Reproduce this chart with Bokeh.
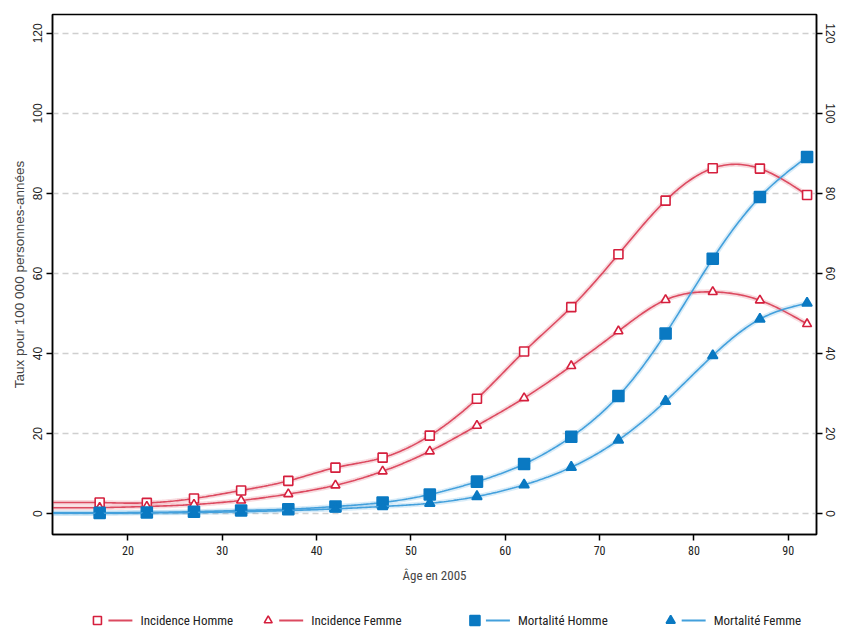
import numpy as np
from bokeh.plotting import figure
from bokeh.models import Range1d, LinearAxis, FixedTicker
from bokeh.layouts import column
from bokeh.embed import file_html
from bokeh.resources import INLINE
from bokeh.core.properties import value

# ---- data ----
ages = [17, 22, 27, 32, 37, 42, 47, 52, 57, 62, 67, 72, 77, 82, 87, 92]
incidence_homme = [2.8, 2.7, 3.8, 5.8, 8.2, 11.5, 14.0, 19.5, 28.7, 40.5, 51.6, 64.8, 78.2, 86.3, 86.2, 79.6]
incidence_femme = [1.5, 1.8, 2.3, 3.3, 4.9, 7.1, 10.6, 15.6, 22.0, 28.9, 36.9, 45.6, 53.4, 55.4, 53.3, 47.4]
mortalite_homme = [0.2, 0.3, 0.5, 0.8, 1.1, 1.8, 2.8, 4.8, 8.0, 12.4, 19.2, 29.4, 45.0, 63.7, 79.1, 89.1]
mortalite_femme = [0.1, 0.2, 0.3, 0.5, 0.8, 1.2, 1.8, 2.6, 4.3, 7.2, 11.6, 18.4, 28.1, 39.5, 48.6, 52.6]
series_labels = ["Incidence Homme", "Incidence Femme", "Mortalité Homme", "Mortalité Femme"]
x_ticks = [20, 30, 40, 50, 60, 70, 80, 90]
y_ticks = [0, 20, 40, 60, 80, 100, 120]

RED = "#d51f3d"
RED_LINE = "#dc4a60"
BLUE = "#0a79c2"
BLUE_LINE = "#43a0dc"
NARROW = "'Liberation Sans Narrow', 'Roboto Condensed', Lato, sans-serif"
SANS = "'Liberation Sans', Arial, sans-serif"

W = 837
ML, MR = 52, 20
LEG_H = 44
LEG_Y = 9


def natural_spline(x, y, xs):
    x = np.asarray(x, float); y = np.asarray(y, float); xs = np.asarray(xs, float)
    n = len(x)
    h = np.diff(x)
    A = np.zeros((n, n)); r = np.zeros(n)
    A[0, 0] = 1; A[-1, -1] = 1
    for i in range(1, n - 1):
        A[i, i - 1] = h[i - 1]
        A[i, i] = 2 * (h[i - 1] + h[i])
        A[i, i + 1] = h[i]
        r[i] = 6 * ((y[i + 1] - y[i]) / h[i] - (y[i] - y[i - 1]) / h[i - 1])
    M = np.linalg.solve(A, r)
    out = np.empty_like(xs)
    for k, t in enumerate(xs):
        if t < x[0]:
            out[k] = y[0]
            continue
        i = min(max(np.searchsorted(x, t) - 1, 0), n - 2)
        a = x[i + 1] - t; b = t - x[i]
        out[k] = (M[i] * a ** 3 + M[i + 1] * b ** 3) / (6 * h[i]) \
            + (y[i] / h[i] - M[i] * h[i] / 6) * a + (y[i + 1] / h[i] - M[i + 1] * h[i] / 6) * b
    return out


p = figure(width=W, height=585, output_backend="svg", toolbar_location=None,
           x_range=Range1d(12, 93), y_range=Range1d(-5.2, 124.7),
           min_border_left=ML, min_border_right=MR, min_border_top=14, min_border_bottom=45)
p.outline_line_color = "black"
p.outline_line_width = 1.5
p.xgrid.grid_line_color = None
p.ygrid.ticker = FixedTicker(ticks=y_ticks)
p.ygrid.grid_line_color = "#cfcfcf"
p.ygrid.grid_line_dash = "6 4"
p.ygrid.grid_line_width = 1.5

for ax in (p.xaxis[0], p.yaxis[0]):
    ax.axis_line_color = "black"
    ax.axis_line_width = 1.5
    ax.major_tick_line_color = "black"
    ax.major_tick_line_width = 1.5
    ax.major_tick_out = 6
    ax.major_tick_in = 0
    ax.minor_tick_line_color = None
    ax.major_label_text_color = "#222222"

p.xaxis.ticker = FixedTicker(ticks=x_ticks)
p.xaxis.major_label_text_font = NARROW
p.xaxis.major_label_text_font_size = "12px"
p.xaxis.axis_label = "Âge en 2005"
p.xaxis.axis_label_text_font = NARROW
p.xaxis.axis_label_text_font_style = "normal"
p.xaxis.axis_label_text_font_size = "13px"
p.xaxis.axis_label_standoff = 10

p.yaxis.ticker = FixedTicker(ticks=y_ticks)
p.yaxis.major_label_orientation = "vertical"
p.yaxis.major_label_text_font = SANS
p.yaxis.major_label_text_font_size = "12px"
p.yaxis.major_label_standoff = 4
p.yaxis.axis_label = "Taux pour 100 000 personnes-années"
p.yaxis.axis_label_text_font = SANS
p.yaxis.axis_label_text_font_style = "normal"
p.yaxis.axis_label_text_font_size = "13.5px"
p.yaxis.axis_label_standoff = 4

right = LinearAxis(ticker=FixedTicker(ticks=y_ticks))
right.axis_line_color = "black"
right.axis_line_width = 1.5
right.major_tick_line_color = "black"
right.major_tick_line_width = 1.5
right.major_tick_out = 6
right.major_tick_in = 0
right.minor_tick_line_color = None
right.major_label_orientation = "vertical"
right.major_label_text_font = SANS
right.major_label_text_font_size = "12px"
right.major_label_standoff = 3
right.major_label_text_color = "#222222"
p.add_layout(right, "right")

xs = np.linspace(12, 92, 400)
series = [
    (incidence_homme, RED, RED_LINE, "square", "white", 9),
    (incidence_femme, RED, RED_LINE, "triangle", "white", 9),
    (mortalite_homme, BLUE, BLUE_LINE, "square", BLUE, 11),
    (mortalite_femme, BLUE, BLUE_LINE, "triangle", BLUE, 10),
]
# light bands under the curves
for vals, mc, lc, marker, fill, size in series:
    ys = natural_spline(ages, vals, xs)
    p.line(xs, ys, line_color=lc, line_width=5, line_alpha=0.2)
for vals, mc, lc, marker, fill, size in series:
    ys = natural_spline(ages, vals, xs)
    p.line(xs, ys, line_color=lc, line_width=1.6)
    p.scatter(ages, vals, marker=marker, size=size, line_color=mc, fill_color=fill,
              line_width=1.6)

# legend strip (its frame is aligned with the main frame by the column layout,
# so the x range is expressed in page pixels over that frame)
leg = figure(width=W, height=LEG_H, output_backend="svg", toolbar_location=None,
             x_range=Range1d(ML, W - MR), y_range=Range1d(0, LEG_H),
             min_border_left=ML, min_border_right=MR, min_border_top=0, min_border_bottom=0,
             outline_line_color=None)
leg.axis.visible = False
leg.grid.visible = False
leg_x = [97, 268, 475, 671]
markers = [("square", "white", RED, RED_LINE, 8), ("triangle", "white", RED, RED_LINE, 8),
           ("square", BLUE, BLUE, BLUE_LINE, 10), ("triangle", BLUE, BLUE, BLUE_LINE, 9)]
for x0, lab, (mk, fill, mc, lc, sz) in zip(leg_x, series_labels, markers):
    leg.scatter([x0], [LEG_Y], marker=mk, size=sz, fill_color=fill, line_color=mc, line_width=1.6)
    leg.segment(x0=[x0 + 11], y0=[LEG_Y], x1=[x0 + 35], y1=[LEG_Y], line_color=lc, line_width=2)
    leg.text(x=[x0 + 43], y=[LEG_Y], text=[lab], text_font=value(NARROW), text_font_size="13px",
             text_baseline="middle", text_color="#222222")

layout = column(p, leg, spacing=0)
open("out.html", "w").write(file_html(layout, INLINE))
